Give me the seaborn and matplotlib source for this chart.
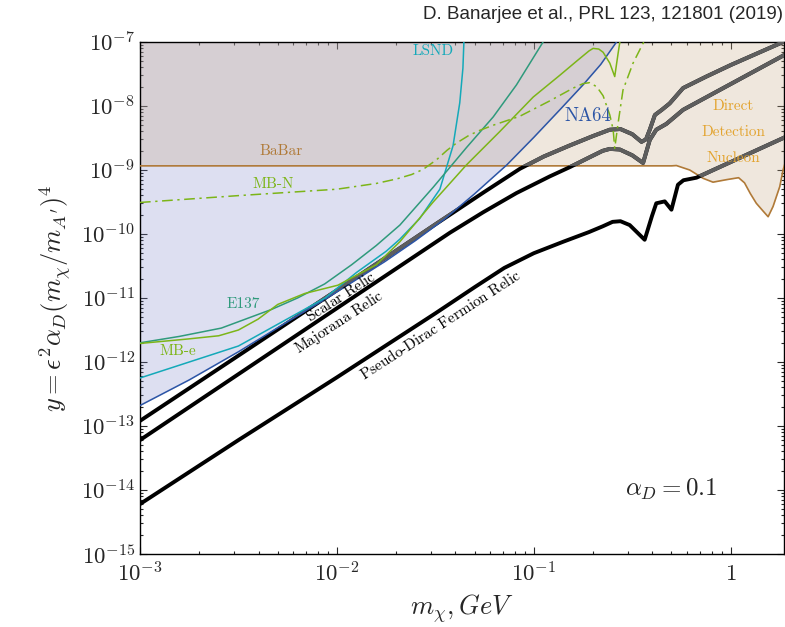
import numpy as np
import matplotlib
matplotlib.use("Agg")
import matplotlib.pyplot as plt
import seaborn as sns

# ---------------- data (log10 of m_chi [GeV] and of y) ----------------
scalar_lm = [-3.0, -2.5, -2.0, -1.5, -1.25, -1.07, -0.95, -0.82, -0.70, -0.614, -0.56, -0.50,
             -0.453, -0.43, -0.411, -0.385, -0.35, -0.31, -0.242, -0.124, 0.0, 0.266, 0.30]
scalar_ly = [-12.92, -11.90, -10.88, -9.85, -9.34, -8.98, -8.79, -8.62, -8.47, -8.37, -8.36, -8.44,
             -8.56, -8.52, -8.37, -8.14, -8.06, -7.96, -7.72, -7.54, -7.36, -7.00, -6.95]

major_lm = [-3.0, -2.5, -2.0, -1.426, -1.257, -1.088, -0.919, -0.817, -0.716, -0.65, -0.614,
            -0.563, -0.50, -0.445, -0.411, -0.378, -0.327, -0.242, 0.274]
major_ly = [-13.22, -12.19, -11.16, -9.98, -9.66, -9.36, -9.10, -8.955, -8.80, -8.70, -8.67,
            -8.68, -8.77, -8.89, -8.53, -8.37, -8.28, -8.06, -7.20]

pdirac_lm = [-3.0, -2.5, -2.0, -1.5, -1.3, -1.15, -1.0, -0.85, -0.72, -0.65, -0.60, -0.56,
             -0.513, -0.437, -0.40, -0.378, -0.335, -0.301, -0.268, -0.24, -0.174, 0.274]
pdirac_ly = [-14.22, -13.22, -12.24, -11.24, -10.83, -10.53, -10.30, -10.12, -9.97, -9.88, -9.81,
             -9.80, -9.86, -10.09, -9.72, -9.52, -9.49, -9.62, -9.23, -9.16, -9.12, -8.49]

na64_lm = [-3.0, -2.75, -2.5, -2.25, -2.06, -1.9, -1.756, -1.6, -1.45, -1.3, -1.137, -1.0,
           -0.868, -0.75, -0.66, -0.58]
na64_ly = [-12.68, -12.28, -11.84, -11.37, -11.02, -10.71, -10.43, -10.10, -9.76, -9.37, -8.92,
           -8.49, -8.06, -7.67, -7.35, -7.00]

dd_lm = [-3.0, -0.30, -0.276, -0.208, -0.14, -0.09, -0.02, 0.04, 0.07, 0.10, 0.13, 0.164,
         0.19, 0.215, 0.249, 0.266, 0.28]
dd_ly = [-8.935, -8.935, -8.93, -9.00, -9.13, -9.19, -9.15, -9.12, -9.20, -9.37, -9.52, -9.64,
         -9.73, -9.57, -9.26, -9.00, -8.85]

lsnd_lm = [-3.0, -2.5, -2.06, -1.90, -1.75, -1.68, -1.58, -1.477, -1.41, -1.376, -1.36, -1.355]
lsnd_ly = [-12.25, -11.75, -11.00, -10.60, -10.27, -10.08, -9.76, -9.30, -8.62, -7.95, -7.41, -7.0]

e137_lm = [-3.0, -2.8, -2.587, -2.333, -2.2, -2.062, -1.925, -1.8, -1.68, -1.511, -1.342,
           -1.206, -1.088, -0.953]
e137_ly = [-11.70, -11.60, -11.47, -11.18, -11.00, -10.78, -10.48, -10.18, -9.86, -9.27, -8.65,
           -8.17, -7.67, -7.00]

mbe_lm = [-3.0, -2.756, -2.6, -2.5, -2.40, -2.30, -2.164, -1.995, -1.80, -1.68, -1.511, -1.342,
          -1.173, -1.003, -0.868, -0.783, -0.72, -0.699, -0.67, -0.648, -0.614, -0.589, -0.572,
          -0.563]
mbe_ly = [-11.71, -11.64, -11.59, -11.50, -11.33, -11.10, -10.93, -10.80, -10.48, -10.12, -9.50,
          -8.92, -8.40, -7.86, -7.52, -7.30, -7.14, -7.10, -7.11, -7.16, -7.33, -7.54, -7.18,
          -7.00]

mbn_lm = [-3.0, -2.5, -2.0, -1.8, -1.697, -1.62, -1.562, -1.494, -1.44, -1.393, -1.33, -1.274,
          -1.206, -1.071, -0.919, -0.80, -0.75, -0.716, -0.68, -0.648, -0.614, -0.597, -0.589,
          -0.572, -0.547, -0.496, -0.445, -0.44]
mbn_ly = [-9.507, -9.40, -9.30, -9.21, -9.14, -9.07, -8.99, -8.84, -8.69, -8.58, -8.46, -8.38,
          -8.30, -8.16, -7.92, -7.72, -7.65, -7.635, -7.70, -7.84, -8.14, -8.37, -8.66,
          -8.27, -7.75, -7.33, -7.02, -7.0]

x_ticks = [1e-3, 1e-2, 1e-1, 1]
x_ticklabels = [r"$10^{-3}$", r"$10^{-2}$", r"$10^{-1}$", r"$1$"]
y_ticks = [10.0 ** e for e in range(-15, -6)]
y_ticklabels = [r"$10^{%d}$" % e for e in range(-15, -6)]

# ---------------- style ----------------
sns.set_theme(style="ticks")
plt.rcParams["mathtext.fontset"] = "cm"
plt.rcParams["font.family"] = ["DejaVu Sans"]

C_LSND = "#14a9b9"
C_E137 = "#2f9a7c"
C_MB = "#7cb518"
C_NA64 = "#2c55a6"
C_BABAR = "#b07a38"
C_DD = "#e3a430"

fig = plt.figure(figsize=(7.85, 6.27), dpi=100)
ax = fig.add_axes([0.1783, 0.1164, 0.8205, 0.8166])
ax.set_xscale("log")
ax.set_yscale("log")
ax.set_xlim(1e-3, 1.866)
ax.set_ylim(1e-15, 1e-7)

def P(lm, ly):
    return 10.0 ** np.asarray(lm), 10.0 ** np.asarray(ly)

TOP = 1e-5
m, y = P(na64_lm, na64_ly)
na64_fill = ax.fill_between(m, y, TOP, color="#7882c8", alpha=0.25, lw=0, zorder=1)
m, y = P(dd_lm, dd_ly)
dd_fill = ax.fill_between(m, y, TOP, color="#c6a986", alpha=0.28, lw=0, zorder=1.1)

# relic lines: black, grey where inside an excluded region
for lm, ly in [(scalar_lm, scalar_ly), (major_lm, major_ly), (pdirac_lm, pdirac_ly)]:
    m, y = P(lm, ly)
    sns.lineplot(x=m, y=y, sort=False, estimator=None, color="black", lw=2.8, ax=ax, zorder=4)
    ax.lines[-1].set_solid_joinstyle("round")
    for poly in (na64_fill, dd_fill):
        sns.lineplot(x=m, y=y, sort=False, estimator=None, color="#5e5e5e", lw=2.8, ax=ax, zorder=4.5)
        ax.lines[-1].set_solid_joinstyle("round")
        ax.lines[-1].set_clip_path(poly.get_paths()[0], ax.transData)

def curve(lm, ly, color, lw=1.1, ls="-", z=5):
    m, y = P(lm, ly)
    sns.lineplot(x=m, y=y, sort=False, estimator=None, color=color, lw=lw, ax=ax, zorder=z)
    ax.lines[-1].set_linestyle(ls)

curve(dd_lm, dd_ly, C_BABAR, lw=1.2, z=3)
curve(na64_lm, na64_ly, C_NA64)
curve(lsnd_lm, lsnd_ly, C_LSND)
curve(e137_lm, e137_ly, C_E137)
curve(mbe_lm, mbe_ly, C_MB)
curve(mbn_lm, mbn_ly, C_MB, ls=(0, (7, 3, 1.5, 3)))

CM = ["cmr10", "DejaVu Serif"]

def lab(lx, lyv, s, color, size=11, rot=0):
    ax.text(10 ** lx, 10 ** lyv, s, color=color, fontsize=size, family=CM,
            ha="center", va="center", rotation=rot, rotation_mode="anchor", zorder=6)

lab(-2.281, -8.70, "BaBar", C_BABAR)
lab(-2.323, -9.215, "MB-N", C_MB)
lab(-1.511, -7.15, "LSND", C_LSND)
lab(-2.477, -11.10, "E137", C_E137)
lab(-2.807, -11.83, "MB-e", C_MB)
lab(-0.726, -8.15, "NA64", C_NA64, size=13.5)
lab(0.012, -8.00, "Direct", C_DD)
lab(0.012, -8.415, "Detection", C_DD)
lab(0.012, -8.815, "Nucleon", C_DD)

def rlab(lx, lyv, words):
    s = r"$\mathrm{%s}$" % "\\ ".join(words)
    ax.text(10 ** lx, 10 ** lyv, s, color="black", fontsize=11, family=CM,
            ha="center", va="center", rotation=33, rotation_mode="anchor", zorder=6)

rlab(-1.98, -10.985, ["Scalar", "Relic"])
rlab(-1.99, -11.38, ["Majorana", "Relic"])
ax.text(10 ** -1.477, 10 ** -11.42, r"Pseudo-Dirac$\mathrm{\ Fermion\ Relic}$", color="black",
        fontsize=11, family=CM, ha="center", va="center", rotation=33,
        rotation_mode="anchor", zorder=6)

ax.text(10 ** -0.305, 10 ** -13.99, r"$\alpha_D = 0.1$", fontsize=18, ha="center", va="center")

ax.set_xticks(x_ticks)
ax.set_xticklabels(x_ticklabels)
ax.set_yticks(y_ticks)
ax.set_yticklabels(y_ticklabels)
ax.tick_params(which="both", direction="in", top=True, right=True, labelsize=16.5, width=0.8)
ax.tick_params(which="major", length=5)
ax.tick_params(which="minor", length=2.5)
ax.tick_params(axis="x", which="major", pad=6)
ax.yaxis.set_minor_locator(matplotlib.ticker.LogLocator(base=10, subs=np.arange(2, 10), numticks=20))
ax.yaxis.set_minor_formatter(matplotlib.ticker.NullFormatter())
for s in ax.spines.values():
    s.set_linewidth(1.0)
    s.set_color("black")

ax.set_xlabel(r"$m_\chi, GeV$", fontsize=19, labelpad=4)
ax.set_ylabel(r"$y = \epsilon^2\alpha_D(m_\chi/m_{A^\prime})^4$", fontsize=19, labelpad=6)

fig.text(0.997, 0.977, "D. Banarjee et al., PRL 123, 121801 (2019)", ha="right", va="center",
         fontsize=13.5, family=["Liberation Sans", "DejaVu Sans"])

fig.savefig("out.png", dpi=100)
